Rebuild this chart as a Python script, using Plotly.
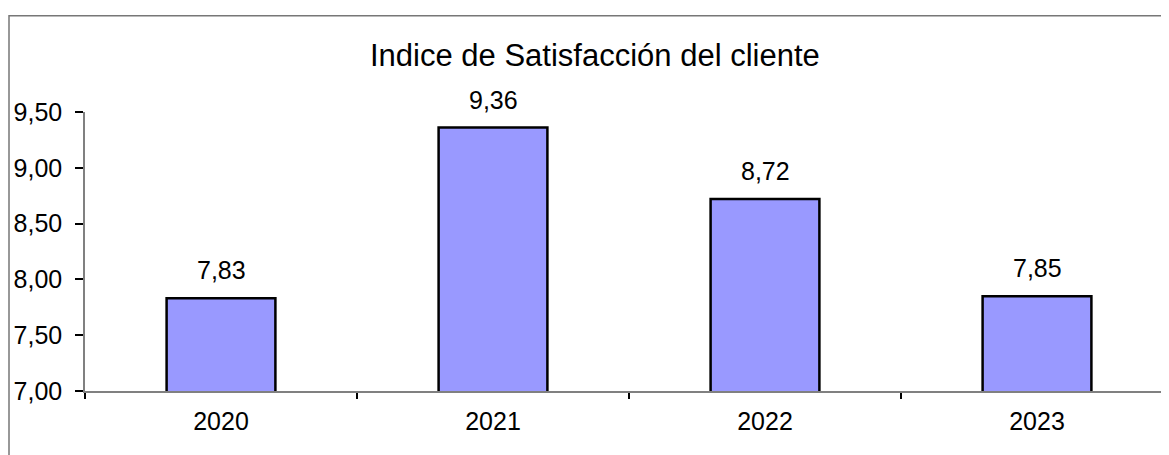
import plotly.graph_objects as go

categories = ["2020", "2021", "2022", "2023"]
values = [7.83, 9.36, 8.72, 7.85]
y_ticks = [7.0, 7.5, 8.0, 8.5, 9.0, 9.5]
title_text = "Indice de Satisfacción del cliente"

# page has an 8px body margin; figure is sized to fit inside the window
OFF = 8
W, H = 1169 - OFF, 455 - OFF
ml, mt = 85 - OFF, 112 - OFF
mb = H - (391.5 - OFF)
mr = 0
plot_w = W - ml - mr
plot_h = H - mt - mb

FONT = "Liberation Sans, Arial, sans-serif"

fig = go.Figure()
fig.add_trace(go.Bar(
    x=categories, y=values, width=0.4,
    marker=dict(color="#9999FF", line=dict(color="black", width=2.5)),
    hoverinfo="skip",
))

for i, v in enumerate(values):
    fig.add_annotation(x=i, y=v, text=f"{v:.2f}".replace(".", ","), showarrow=False,
                       yanchor="bottom", yshift=12,
                       font=dict(family=FONT, size=25, color="black"))

# title
fig.add_annotation(xref="paper", yref="paper",
                   x=(595 - OFF - ml) / plot_w, y=1 + (mt - (55 - OFF)) / plot_h,
                   xanchor="center", yanchor="middle", showarrow=False,
                   text=title_text, font=dict(family=FONT, size=31, color="black"))

# outer frame
fig.add_shape(type="rect", xref="paper", yref="paper",
              x0=(9 - OFF - ml) / plot_w, x1=(W + 20 - ml) / plot_w,
              y0=-(mb + 20) / plot_h, y1=1 + (mt - (15.5 - OFF)) / plot_h,
              line=dict(color="#777777", width=1.5), layer="below")

fig.update_layout(
    width=W, height=H, autosize=False,
    margin=dict(l=ml, r=mr, t=mt, b=mb),
    paper_bgcolor="white", plot_bgcolor="white",
    separators=",.",
    showlegend=False,
    font=dict(family=FONT, size=25, color="black"),
)
fig.update_xaxes(
    type="category", range=[-0.5, 3.5 - 4 / 272],
    showline=True, linecolor="#808080", linewidth=1.5,
    ticks="outside", tickson="boundaries", ticklen=6, tickcolor="black", tickwidth=1.5,
    showgrid=False, tickfont=dict(family=FONT, size=25, color="black"),
    ticklabelstandoff=7,
)
fig.update_yaxes(
    range=[7.0, 9.5], tickvals=y_ticks, tickformat=".2f",
    showline=True, linecolor="#808080", linewidth=1.5,
    ticks="outside", ticklen=8, tickcolor="black", tickwidth=1.5,
    showgrid=False, zeroline=False, tickfont=dict(family=FONT, size=25, color="black"),
    ticklabelstandoff=8,
)

fig.write_html("out.html")
